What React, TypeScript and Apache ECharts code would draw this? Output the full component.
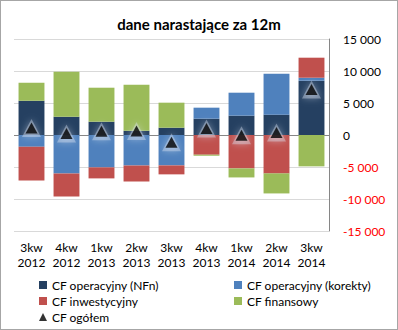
import React, { useEffect, useRef } from "react";
import * as echarts from "echarts";

const categories = ["3kw\n2012", "4kw\n2012", "1kw\n2013", "2kw\n2013", "3kw\n2013", "4kw\n2013", "1kw\n2014", "2kw\n2014", "3kw\n2014"];
const cfOperNFn = [5360, 2860, 2080, 670, 1140, 2550, 3020, 3170, 8480];
const cfOperKorekty = [-1830, -6000, -5060, -4750, -4750, 1720, 3590, 6410, 470];
const cfInwest = [-5260, -3590, -1720, -2500, -1400, -3080, -5220, -6000, 3130];
const cfFinans = [2810, 7030, 5310, 7190, 3910, -160, -1410, -3130, -4900];
const cfOgolem = [1100, 250, 600, 640, -1150, 1030, -20, 400, 7120];

const FONT = "Lato";

export default function App() {
  const ref = useRef<HTMLDivElement>(null);
  useEffect(() => {
    const chart = echarts.init(ref.current!, null, { renderer: "svg" });
    const fmt = (v: any) => {
      const n = Number(v);
      const s = Math.abs(n).toString().replace(/\B(?=(\d{3})+(?!\d))/g, " ");
      return (n < 0 ? "-" : "") + s;
    };
    const barSeries = (name: string, data: number[], color: string) => ({
      name,
      type: "bar",
      stack: "cf",
      data,
      barWidth: "74%",
      itemStyle: { color },
      emphasis: { disabled: true },
    });
    chart.setOption({
      animation: false,
      textStyle: { fontFamily: FONT },
      title: {
        text: "dane narastające za 12m",
        left: "center",
        top: 10,
        textStyle: { fontFamily: FONT, fontSize: 15, fontWeight: "bold", color: "#000" },
      },
      grid: { left: 13, right: 68, top: 38, bottom: 98 },
      xAxis: {
        type: "category",
        data: categories,
        axisLine: { show: false, onZero: false },
        axisTick: { show: false },
        axisLabel: { color: "#000", fontSize: 12, lineHeight: 15, margin: 9, fontFamily: FONT, interval: 0 },
      },
      yAxis: {
        type: "value",
        position: "right",
        min: -15000,
        max: 15000,
        interval: 5000,
        axisLine: { show: true, lineStyle: { color: "#868686" } },
        axisTick: { show: false },
        splitLine: {
          lineStyle: {
            color: ["#d9d9d9", "#d9d9d9", "#d9d9d9", "#868686", "#d9d9d9", "#d9d9d9", "#d9d9d9"],
          },
        },
        axisLabel: {
          formatter: fmt,
          margin: 14,
          fontSize: 12,
          fontFamily: FONT,
          color: (v: any) => (Number(v) < 0 ? "#ff0000" : "#000000"),
        },
      },
      legend: [
        {
          orient: "vertical",
          left: 33,
          top: 273,
          itemWidth: 8,
          itemHeight: 8,
          itemGap: 4,
          textStyle: { fontSize: 12, fontFamily: FONT, color: "#000" },
          data: [
            { name: "CF operacyjny (NFn)", icon: "rect" },
            { name: "CF inwestycyjny", icon: "rect" },
            { name: "CF ogółem", icon: "triangle" },
          ],
        },
        {
          orient: "vertical",
          left: 228,
          top: 273,
          itemWidth: 8,
          itemHeight: 8,
          itemGap: 4,
          textStyle: { fontSize: 12, fontFamily: FONT, color: "#000" },
          data: [
            { name: "CF operacyjny (korekty)", icon: "rect" },
            { name: "CF finansowy", icon: "rect" },
          ],
        },
      ],
      series: [
        barSeries("CF operacyjny (NFn)", cfOperNFn, "#254061"),
        barSeries("CF operacyjny (korekty)", cfOperKorekty, "#4f81bd"),
        barSeries("CF inwestycyjny", cfInwest, "#c0504d"),
        barSeries("CF finansowy", cfFinans, "#9bbb59"),
        {
          name: "glow",
          type: "scatter",
          data: cfOgolem,
          symbol: "triangle",
          symbolSize: [19, 18],
          z: 4,
          silent: true,
          itemStyle: { color: "rgba(220,228,242,0.5)", shadowBlur: 7, shadowColor: "rgba(220,228,242,0.95)" },
          emphasis: { disabled: true },
        },
        {
          name: "CF ogółem",
          type: "scatter",
          data: cfOgolem,
          symbol: "triangle",
          symbolSize: [12, 11],
          z: 5,
          itemStyle: { color: "#000" },
          emphasis: { disabled: true },
        },
      ],
    });
    return () => chart.dispose();
  }, []);
  return (
    <div
      style={{
        position: "fixed",
        left: 0,
        top: 0,
        width: 398,
        height: 330,
        boxSizing: "border-box",
        border: "1px solid #a6a6a6",
        background: "#fff",
      }}
    >
      <div ref={ref} style={{ width: 396, height: 328 }} />
    </div>
  );
}
